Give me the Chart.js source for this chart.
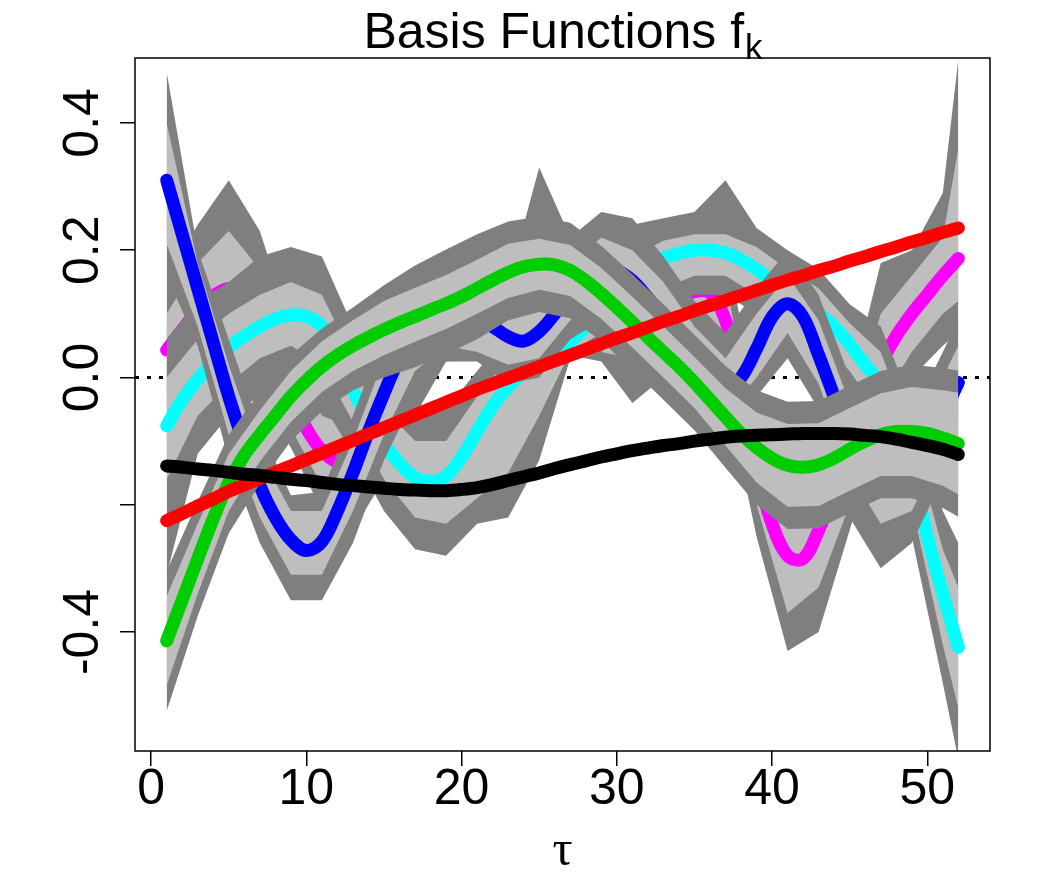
<!DOCTYPE html>
<html>
<head>
<meta charset="utf-8">
<script src="https://cdn.jsdelivr.net/npm/chart.js@4.4.1/dist/chart.umd.min.js"></script>
<style>
html,body{margin:0;padding:0;background:#ffffff;}
canvas{display:block;}
</style>
</head>
<body>
<canvas id="c" width="1051" height="887" style="width:1051px;height:887px"></canvas>
<script>
// ---------- data ----------
const tau = [1,2,3,4,5,6,7,8,9,10,11,12,13,14,15,16,17,18,19,20,21,22,23,24,25,26,27,28,29,30,31,32,33,34,35,36,37,38,39,40,41,42,43,44,45,46,47,48,49,50,51,52];

const fBlack = [-0.139,-0.141,-0.144,-0.146,-0.149,-0.152,-0.154,-0.157,-0.160,-0.162,-0.165,-0.168,-0.170,-0.172,-0.174,-0.176,-0.177,-0.178,-0.178,-0.176,-0.173,-0.168,-0.162,-0.156,-0.150,-0.143,-0.137,-0.131,-0.125,-0.120,-0.115,-0.111,-0.107,-0.104,-0.100,-0.097,-0.094,-0.092,-0.091,-0.090,-0.089,-0.088,-0.088,-0.088,-0.089,-0.091,-0.093,-0.097,-0.102,-0.107,-0.113,-0.121];
const fRed = [-0.225,-0.214,-0.202,-0.191,-0.179,-0.169,-0.159,-0.149,-0.139,-0.129,-0.119,-0.109,-0.099,-0.089,-0.079,-0.069,-0.059,-0.049,-0.039,-0.029,-0.019,-0.010,-0.001,0.008,0.017,0.026,0.035,0.044,0.053,0.062,0.070,0.079,0.088,0.096,0.105,0.113,0.121,0.129,0.137,0.145,0.153,0.160,0.168,0.175,0.183,0.190,0.198,0.205,0.213,0.220,0.228,0.235];
const fGreen = [-0.414,-0.350,-0.285,-0.222,-0.165,-0.122,-0.090,-0.060,-0.030,-0.005,0.017,0.035,0.050,0.063,0.075,0.086,0.096,0.106,0.116,0.127,0.140,0.153,0.165,0.174,0.178,0.177,0.168,0.152,0.132,0.110,0.087,0.063,0.040,0.017,-0.008,-0.035,-0.062,-0.088,-0.110,-0.127,-0.138,-0.141,-0.137,-0.127,-0.113,-0.100,-0.090,-0.085,-0.085,-0.088,-0.095,-0.104];
const fBlue = [0.310,0.225,0.140,0.055,-0.030,-0.105,-0.170,-0.220,-0.255,-0.272,-0.258,-0.210,-0.150,-0.085,-0.025,0.030,0.065,0.090,0.100,0.100,0.092,0.080,0.064,0.057,0.072,0.100,0.135,0.160,0.172,0.168,0.152,0.125,0.095,0.062,0.028,0.000,-0.018,0.000,0.045,0.095,0.116,0.095,0.035,-0.030,-0.095,-0.145,-0.170,-0.175,-0.158,-0.115,-0.060,-0.008];
const fCyan = [-0.076,-0.035,-0.003,0.025,0.047,0.065,0.080,0.092,0.098,0.096,0.080,0.040,-0.020,-0.068,-0.104,-0.135,-0.157,-0.163,-0.155,-0.125,-0.085,-0.045,-0.015,0.010,0.028,0.042,0.056,0.080,0.110,0.140,0.162,0.178,0.188,0.195,0.200,0.200,0.196,0.185,0.170,0.150,0.130,0.115,0.100,0.080,0.052,0.020,-0.010,-0.060,-0.140,-0.250,-0.340,-0.424];
const fMagenta = [0.043,0.075,0.105,0.128,0.140,0.132,0.090,0.030,-0.030,-0.080,-0.115,-0.133,-0.136,-0.110,-0.060,-0.010,0.030,0.058,0.075,0.085,0.090,0.093,0.095,0.093,0.090,0.090,0.090,0.090,0.090,0.093,0.100,0.107,0.115,0.125,0.135,0.133,0.090,0.000,-0.140,-0.230,-0.280,-0.285,-0.240,-0.180,-0.130,-0.055,0.020,0.065,0.100,0.130,0.160,0.187];

// band grid
const tauBand = [1,3,5,7,9,11,13,15,17,19,21,23,25,27,29,31,33,35,37,39,41,43,45,47,49,51,52];

const magDarkLo  = [-0.08,-0.02,0.01,-0.03,-0.11,-0.21,-0.24,-0.16,-0.06,0.025,0.03,0.03,0.02,0.035,0.025,-0.04,0.00,0.04,-0.02,-0.25,-0.43,-0.40,-0.24,-0.08,0.00,0.05,0.07];
const magLightLo = [-0.02,0.04,0.07,0.03,-0.08,-0.17,-0.20,-0.12,-0.02,0.04,0.05,0.05,0.05,0.05,0.04,0.03,0.05,0.08,0.03,-0.20,-0.37,-0.33,-0.20,-0.04,0.04,0.10,0.12];
const magLightHi = [0.10,0.18,0.23,0.17,0.03,-0.06,-0.08,-0.01,0.08,0.11,0.13,0.14,0.14,0.13,0.14,0.16,0.17,0.18,0.15,-0.09,-0.20,-0.17,-0.07,0.10,0.16,0.22,0.36];
const magDarkHi  = [0.16,0.24,0.31,0.23,0.08,-0.02,-0.04,0.03,0.12,0.15,0.17,0.18,0.18,0.17,0.18,0.20,0.22,0.23,0.21,-0.04,-0.16,-0.12,-0.02,0.18,0.20,0.29,0.50];

const cyanDarkLo  = [-0.31,-0.12,-0.06,-0.03,-0.01,-0.04,-0.12,-0.21,-0.27,-0.28,-0.23,-0.22,-0.13,0.03,0.04,0.08,0.11,0.13,0.13,0.10,0.06,0.03,-0.03,-0.10,-0.25,-0.48,-0.60];
const cyanLightLo = [-0.16,-0.06,-0.01,0.03,0.05,0.02,-0.07,-0.16,-0.22,-0.23,-0.19,-0.15,-0.06,0.04,0.07,0.11,0.14,0.16,0.16,0.13,0.09,0.06,0.01,-0.06,-0.20,-0.42,-0.52];
const cyanLightHi = [0.00,0.06,0.10,0.13,0.15,0.13,0.03,-0.05,-0.10,-0.10,-0.03,0.03,0.07,0.09,0.15,0.19,0.215,0.225,0.225,0.205,0.17,0.14,0.085,0.04,-0.09,-0.27,-0.33];
const cyanDarkHi  = [0.06,0.12,0.15,0.19,0.205,0.19,0.08,0.00,-0.06,-0.05,0.01,0.07,0.11,0.13,0.20,0.24,0.25,0.26,0.31,0.235,0.20,0.17,0.115,0.08,-0.04,-0.21,-0.26];

const blueDarkLo  = [0.16,0.05,-0.13,-0.26,-0.35,-0.35,-0.26,-0.13,-0.03,0.025,0.025,-0.01,0.00,0.06,0.09,0.07,0.00,-0.06,-0.10,-0.03,0.03,-0.05,-0.22,-0.30,-0.26,-0.16,-0.10];
const blueLightLo = [0.21,0.08,-0.09,-0.22,-0.31,-0.31,-0.21,-0.09,0.01,0.05,0.04,0.02,0.03,0.09,0.12,0.10,0.04,-0.02,-0.06,0.00,0.07,-0.01,-0.15,-0.23,-0.21,-0.11,-0.06];
const blueLightHi = [0.40,0.18,0.02,-0.12,-0.21,-0.21,-0.10,0.03,0.11,0.14,0.13,0.11,0.245,0.18,0.22,0.20,0.15,0.08,0.03,0.10,0.16,0.09,-0.04,-0.12,-0.10,0.00,0.05];
const blueDarkHi  = [0.48,0.20,0.06,-0.08,-0.185,-0.18,-0.06,0.07,0.15,0.18,0.17,0.15,0.33,0.22,0.26,0.25,0.19,0.12,0.07,0.14,0.20,0.13,0.00,-0.08,-0.06,0.04,0.09];

const greenDarkLo  = [-0.524,-0.375,-0.245,-0.167,-0.100,-0.053,-0.020,0.000,0.016,0.036,0.060,0.090,0.103,0.093,0.057,0.012,-0.035,-0.083,-0.142,-0.200,-0.238,-0.237,-0.213,-0.190,-0.190,-0.205,-0.219];
const greenLightLo = [-0.484,-0.340,-0.210,-0.132,-0.070,-0.023,0.010,0.035,0.056,0.076,0.100,0.125,0.138,0.128,0.092,0.047,0.000,-0.048,-0.107,-0.165,-0.203,-0.202,-0.178,-0.155,-0.155,-0.170,-0.184];
const greenLightHi = [-0.344,-0.230,-0.120,-0.052,0.010,0.057,0.090,0.120,0.141,0.161,0.185,0.210,0.218,0.208,0.172,0.127,0.080,0.032,-0.017,-0.055,-0.073,-0.072,-0.048,-0.025,-0.015,-0.020,-0.024];
const greenDarkHi  = [-0.304,-0.195,-0.090,-0.022,0.035,0.077,0.110,0.145,0.176,0.201,0.225,0.245,0.253,0.243,0.207,0.162,0.115,0.067,0.018,-0.020,-0.038,-0.037,-0.013,0.010,0.020,0.015,0.011];

const xTickValues = [0,10,20,30,40,50];
const yTickValues = [-0.4,-0.2,0.0,0.2,0.4];
const yTickLabels = ['-0.4','','0.0','0.2','0.4'];
const titleMain = 'Basis Functions f';
const titleSub = 'k';
const xLabel = 'τ';

// ---------- build datasets ----------
const DARK = '#7f7f7f', LIGHT = '#bebebe';
const datasets = [];
function pts(xs, ys){ return xs.map((x,i)=>({x:x, y:ys[i]})); }
function addBand(lo, hi, color){
  const iLo = datasets.length;
  datasets.push({data: pts(tauBand, lo), borderWidth:0, borderColor:'rgba(0,0,0,0)', pointRadius:0, fill:false, tension:0, clip:0});
  datasets.push({data: pts(tauBand, hi), borderWidth:0, borderColor:'rgba(0,0,0,0)', backgroundColor: color, pointRadius:0, fill:{target:iLo}, tension:0, clip:0});
}
function addLine(ys, color){
  datasets.push({data: pts(tau, ys), borderColor: color, borderWidth: 13, pointRadius: 0, fill: false,
    tension: 0.35, borderCapStyle: 'round', borderJoinStyle: 'round'});
}
// drawn in this order (k = 6 .. 1)
addBand(magDarkLo, magDarkHi, DARK);   addBand(magLightLo, magLightHi, LIGHT);   addLine(fMagenta, '#ff00ff');
addBand(cyanDarkLo, cyanDarkHi, DARK); addBand(cyanLightLo, cyanLightHi, LIGHT); addLine(fCyan, '#00ffff');
addBand(blueDarkLo, blueDarkHi, DARK); addBand(blueLightLo, blueLightHi, LIGHT); addLine(fBlue, '#0000ff');
addBand(greenDarkLo, greenDarkHi, DARK); addBand(greenLightLo, greenLightHi, LIGHT); addLine(fGreen, '#00cd00');
addLine(fRed, '#ff0000');
addLine(fBlack, '#000000');
datasets.forEach((d,i)=>{ d.order = datasets.length - i; });

const FONT = '"Liberation Sans", Arial, Helvetica, sans-serif';

const rDeco = {
  id: 'rDeco',
  beforeDatasetsDraw(chart){
    const {ctx, chartArea:a, scales:{y}} = chart;
    const py = y.getPixelForValue(0);
    ctx.save();
    ctx.strokeStyle = '#000'; ctx.lineWidth = 3; ctx.setLineDash([4,8]);
    ctx.beginPath(); ctx.moveTo(a.left, py); ctx.lineTo(a.right, py); ctx.stroke();
    ctx.restore();
  },
  afterDraw(chart){
    const {ctx, chartArea:a} = chart;
    ctx.save();
    ctx.strokeStyle = '#000'; ctx.lineWidth = 1.5; ctx.setLineDash([]);
    ctx.strokeRect(a.left, a.top, a.right - a.left, a.bottom - a.top);
    ctx.fillStyle = '#000';
    ctx.textAlign = 'left'; ctx.textBaseline = 'alphabetic';
    ctx.font = '50px ' + FONT;
    const w1 = ctx.measureText(titleMain).width;
    ctx.font = '35px ' + FONT;
    const w2 = ctx.measureText(titleSub).width;
    const cx = (a.left + a.right) / 2;
    const x0 = cx - (w1 + w2) / 2;
    ctx.font = '50px ' + FONT;
    ctx.fillText(titleMain, x0, 48);
    ctx.font = '35px ' + FONT;
    ctx.fillText(titleSub, x0 + w1 + 1, 59);
    ctx.font = '50px "Liberation Serif", "DejaVu Serif", serif';
    ctx.textAlign = 'center';
    ctx.fillText(xLabel, cx, 865);
    ctx.restore();
  }
};

new Chart(document.getElementById('c'), {
  type: 'line',
  data: { datasets: datasets },
  options: {
    responsive: false, animation: false, devicePixelRatio: 1, events: [],
    layout: { padding: { left: 0, right: 61, top: 58, bottom: 0 } },
    plugins: { legend: {display:false}, tooltip: {enabled:false}, title: {display:false} },
    scales: {
      x: {
        type: 'linear', position: 'bottom', min: -1.04, max: 54.04,
        afterBuildTicks: s => { s.ticks = xTickValues.map(v => ({value: v})); },
        afterFit: s => { s.height = 136; },
        grid: { drawOnChartArea: false, drawTicks: true, tickLength: 15, color: '#000', lineWidth: 1.5 },
        border: { display: false },
        ticks: { color: '#000', font: { size: 50, family: FONT }, padding: -6, maxRotation: 0, minRotation: 0,
                 callback: v => String(v) }
      },
      y: {
        type: 'linear', position: 'left', min: -0.587, max: 0.502,
        afterBuildTicks: s => { s.ticks = yTickValues.map(v => ({value: v})); },
        afterFit: s => { s.width = 135; },
        grid: { drawOnChartArea: false, drawTicks: true, tickLength: 15, color: '#000', lineWidth: 1.5 },
        border: { display: false },
        ticks: { color: '#000', font: { size: 50, family: FONT }, padding: -7, minRotation: 90, maxRotation: 90,
                 crossAlign: 'center',
                 callback: (v, i) => { const k = yTickValues.indexOf(v); return k >= 0 ? yTickLabels[k] : ''; } }
      }
    }
  },
  plugins: [rDeco]
});
</script>
</body>
</html>
